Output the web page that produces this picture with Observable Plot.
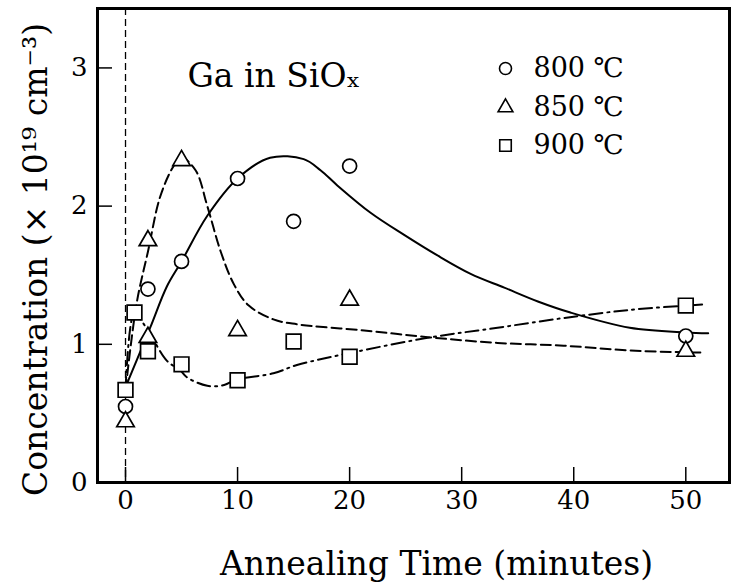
<!DOCTYPE html>
<html>
<head>
<meta charset="utf-8">
<script src="https://cdn.jsdelivr.net/npm/d3@7"></script>
<script src="https://cdn.jsdelivr.net/npm/@observablehq/plot@0.6"></script>
<style>
  html, body { margin: 0; padding: 0; background: white; }
</style>
</head>
<body>
<div id="chart"></div>
<script>
// ---- data ----
const xTicks = [0, 10, 20, 30, 40, 50];
const yTicks = [0, 1, 2, 3];

// measured points
const t800 = [0, 2, 5, 10, 15, 20, 50];
const c800 = [0.55, 1.40, 1.60, 2.20, 1.89, 2.29, 1.06];

const t850 = [0, 2, 2, 5, 10, 20, 50];
const c850 = [0.44, 1.75, 1.05, 2.33, 1.10, 1.32, 0.95];

const t900 = [0, 0.8, 2, 5, 10, 15, 20, 50];
const c900 = [0.67, 1.23, 0.95, 0.855, 0.74, 1.02, 0.91, 1.28];

// hand-drawn guide curves
const fit800X = [0, 2.2, 3.7, 5, 7.3, 10, 12.9, 15.9, 17.4, 18.9, 21.9, 24.9, 27.8, 30.8, 33.8, 36.8, 39.7, 45, 50, 52];
const fit800Y = [0.69, 1.12, 1.42, 1.6, 1.93, 2.2, 2.35, 2.34, 2.26, 2.15, 1.95, 1.79, 1.645, 1.51, 1.41, 1.31, 1.23, 1.12, 1.086, 1.08];

const fit850X = [0, 1, 2, 3.1, 4.3, 5, 6.25, 7.3, 8.5, 9.7, 11, 13.2, 15.3, 21.3, 27.2, 33.2, 39.1, 45.1, 51.3];
const fit850Y = [0.67, 1.30, 1.67, 2.07, 2.29, 2.35, 2.26, 2.0, 1.67, 1.43, 1.28, 1.18, 1.145, 1.10, 1.05, 1.01, 0.99, 0.955, 0.94];

const fit900X = [0, 0.8, 1.6, 2.5, 3.7, 4.9, 5.5, 7.3, 8.8, 9.9, 13.2, 15.3, 20.2, 27.2, 33.2, 39.1, 45.1, 50, 51.8];
const fit900Y = [0.67, 1.23, 1.15, 1.03, 0.88, 0.81, 0.76, 0.70, 0.705, 0.745, 0.79, 0.85, 0.94, 1.05, 1.12, 1.19, 1.25, 1.28, 1.29];

const seriesLabels = ["800 \u2103", "850 \u2103", "900 \u2103"];
const annotation = "Ga in SiO\u2093";
const xTitle = "Annealing Time (minutes)";
const yTitle = "Concentration (\u00D7 10\u00B9\u2079 cm\u207B\u00B3)";

// ---- build tables ----
const zip = (xs, ys) => xs.map((x, i) => ({x, y: ys[i]}));
const pts800 = zip(t800, c800), pts850 = zip(t850, c850), pts900 = zip(t900, c900);
const line800 = zip(fit800X, fit800Y), line850 = zip(fit850X, fit850Y), line900 = zip(fit900X, fit900Y);

const font = "DejaVu Serif";

const legendMark = (symbol, r, dy, label) => [
  Plot.dot([label], {frameAnchor: "top-left", dx: 408, dy, symbol, r, fill: "white", stroke: "black", strokeWidth: 1.6}),
  Plot.text([label], {frameAnchor: "top-left", dx: 436, dy, text: d => d, textAnchor: "start", lineAnchor: "middle", fontSize: 27, fontFamily: font, fill: "black"})
];

const chart = Plot.plot({
  width: 734,
  height: 588,
  marginLeft: 97,
  marginRight: 5,
  marginTop: 8,
  marginBottom: 106,
  style: {fontFamily: font, background: "white", color: "black"},
  x: {domain: [-2.5, 53.9]},
  y: {domain: [0, 3.43]},
  marks: [
    Plot.ruleX([0], {stroke: "black", strokeWidth: 1.3, strokeDasharray: "7,4"}),
    Plot.line(line800, {x: "x", y: "y", curve: "catmull-rom", stroke: "black", strokeWidth: 2}),
    Plot.line(line850, {x: "x", y: "y", curve: "catmull-rom", stroke: "black", strokeWidth: 2, strokeDasharray: "10,5"}),
    Plot.line(line900, {x: "x", y: "y", curve: "catmull-rom", stroke: "black", strokeWidth: 2, strokeDasharray: "13,5,2,5"}),
    Plot.dot(pts800, {x: "x", y: "y", symbol: "circle", r: 7, fill: "white", stroke: "black", strokeWidth: 1.7}),
    Plot.dot(pts850, {x: "x", y: "y", symbol: "triangle", r: 6.5, fill: "white", stroke: "black", strokeWidth: 1.7}),
    Plot.dot(pts900, {x: "x", y: "y", symbol: "square", r: 8.3, fill: "white", stroke: "black", strokeWidth: 1.7}),
    Plot.frame({stroke: "black", strokeWidth: 3}),
    Plot.axisX({ticks: xTicks, tickSize: -15, tickPadding: 23, tickFormat: d => d, fontSize: 26, fontFamily: font, label: null, strokeWidth: 1.5}),
    Plot.axisY({ticks: yTicks, tickSize: -15, tickPadding: 25, tickFormat: d => d, fontSize: 26, fontFamily: font, label: null, strokeWidth: 1.5}),
    Plot.text([xTitle], {frameAnchor: "bottom", dx: 23, dy: 82, text: d => d, textAnchor: "middle", lineAnchor: "middle", fontSize: 33, fontFamily: font, fill: "black"}),
    Plot.text([yTitle], {frameAnchor: "left", dx: -61, dy: 14, rotate: -90, text: d => d, textAnchor: "middle", lineAnchor: "middle", fontSize: 33, fontFamily: font, fill: "black"}),
    Plot.text([annotation], {frameAnchor: "top-left", dx: 90, dy: 68, text: d => d, textAnchor: "start", lineAnchor: "middle", fontSize: 33, fontFamily: font, fill: "black"}),
    ...legendMark("circle", 6, 60, seriesLabels[0]),
    ...legendMark("triangle", 5.5, 99, seriesLabels[1]),
    ...legendMark("square", 6.5, 137, seriesLabels[2])
  ]
});
document.getElementById("chart").appendChild(chart);
</script>
</body>
</html>
